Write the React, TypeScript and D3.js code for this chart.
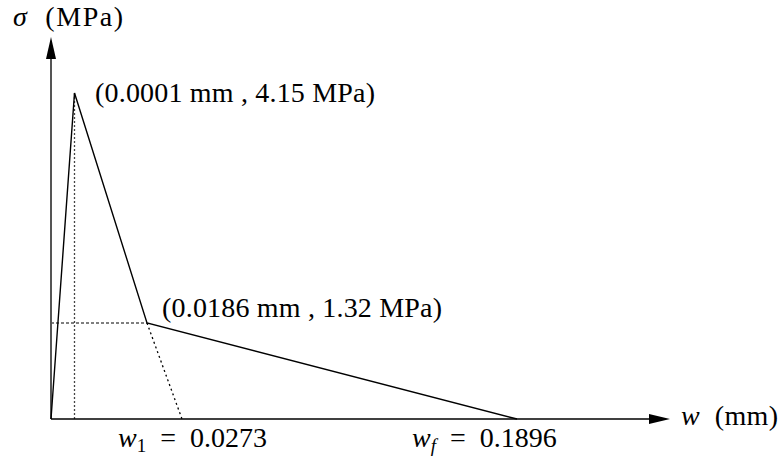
import React from "react";
import * as d3 from "d3";

// Schematic values of the bilinear softening law
const wTicks = [0, 0.0001, 0.0186, 0.0273, 0.1896]; // mm
const sigmaTicks = [0, 1.32, 4.15]; // MPa
const curveW = [0, 0.0001, 0.0186, 0.1896];
const curveS = [0, 4.15, 1.32, 0];
const extW = [0.0186, 0.0273];
const extS = [1.32, 0];
const peakLabel = "(0.0001 mm , 4.15 MPa)";
const kneeLabel = "(0.0186 mm , 1.32 MPa)";
const w1Value = "0.0273";
const wfValue = "0.1896";

const W = 783;
const H = 461;

export default function App() {
  // schematic (not to scale) axis mappings
  const x = d3.scaleLinear().domain(wTicks).range([51, 74.5, 147, 182, 517]);
  const y = d3.scaleLinear().domain(sigmaTicks).range([419, 323, 93]);
  const x0 = x(0);
  const y0 = y(0);
  const xEnd = 670;
  const yEnd = 37;

  const line = d3
    .line<[number, number]>()
    .x((d) => x(d[0]))
    .y((d) => y(d[1]));

  const curve = line(curveW.map((w, i) => [w, curveS[i]] as [number, number])) || "";
  const ext = line(extW.map((w, i) => [w, extS[i]] as [number, number])) || "";
  const vGuide = line([
    [0.0001, 0],
    [0.0001, 4.15],
  ]) || "";
  const hGuide = line([
    [0, 1.32],
    [0.0186, 1.32],
  ]) || "";

  const font = "'Liberation Serif', 'Times New Roman', serif";
  const fs = 28;

  return (
    <svg
      width={W}
      height={H}
      style={{ position: "absolute", left: 0, top: 0, background: "#fff" }}
      fontFamily={font}
      fontSize={fs}
    >
      <rect width={W} height={H} fill="#fff" />
      {/* guides */}
      <path d={vGuide} stroke="#444" strokeWidth={1.3} strokeDasharray="2,2" fill="none" />
      <path d={hGuide} stroke="#000" strokeWidth={1.2} strokeDasharray="3,2" fill="none" />
      <path d={ext} stroke="#000" strokeWidth={1.3} strokeDasharray="2,3" fill="none" />
      {/* axes */}
      <line x1={x0} y1={y0} x2={x0} y2={yEnd + 20} stroke="#555" strokeWidth={2} />
      <polygon
        points={`${x0},${yEnd} ${x0 - 5},${yEnd + 22} ${x0 + 5},${yEnd + 22}`}
        fill="#000"
      />
      <line x1={x0} y1={y0} x2={xEnd - 18} y2={y0} stroke="#000" strokeWidth={1.6} />
      <polygon
        points={`${xEnd},${y0} ${xEnd - 21},${y0 - 5} ${xEnd - 21},${y0 + 5}`}
        fill="#000"
      />
      {/* curve */}
      <path d={curve} stroke="#000" strokeWidth={1.4} fill="none" strokeLinejoin="miter" />

      {/* labels */}
      <text x={13} y={26} style={{ whiteSpace: "pre" }} textLength={110} lengthAdjust="spacing">
        <tspan fontStyle="italic">σ</tspan>
        <tspan>{"  (MPa)"}</tspan>
      </text>
      <text x={681} y={425} style={{ whiteSpace: "pre" }} textLength={97} lengthAdjust="spacing">
        <tspan fontStyle="italic">w</tspan>
        <tspan>{"  (mm)"}</tspan>
      </text>
      <text x={95} y={102} style={{ whiteSpace: "pre" }} textLength={280} lengthAdjust="spacing">
        {peakLabel}
      </text>
      <text x={162} y={317} style={{ whiteSpace: "pre" }} textLength={280} lengthAdjust="spacing">
        {kneeLabel}
      </text>
      <text x={118} y={447} style={{ whiteSpace: "pre" }}>
        <tspan fontStyle="italic">w</tspan>
        <tspan fontSize={19} dy={5}>1</tspan>
        <tspan dy={-5}>{"  =  " + w1Value}</tspan>
      </text>
      <text x={412} y={447} style={{ whiteSpace: "pre" }}>
        <tspan fontStyle="italic">w</tspan>
        <tspan fontSize={19} fontStyle="italic" dy={5}>f</tspan>
        <tspan dy={-5}>{"  =  " + wfValue}</tspan>
      </text>
    </svg>
  );
}
